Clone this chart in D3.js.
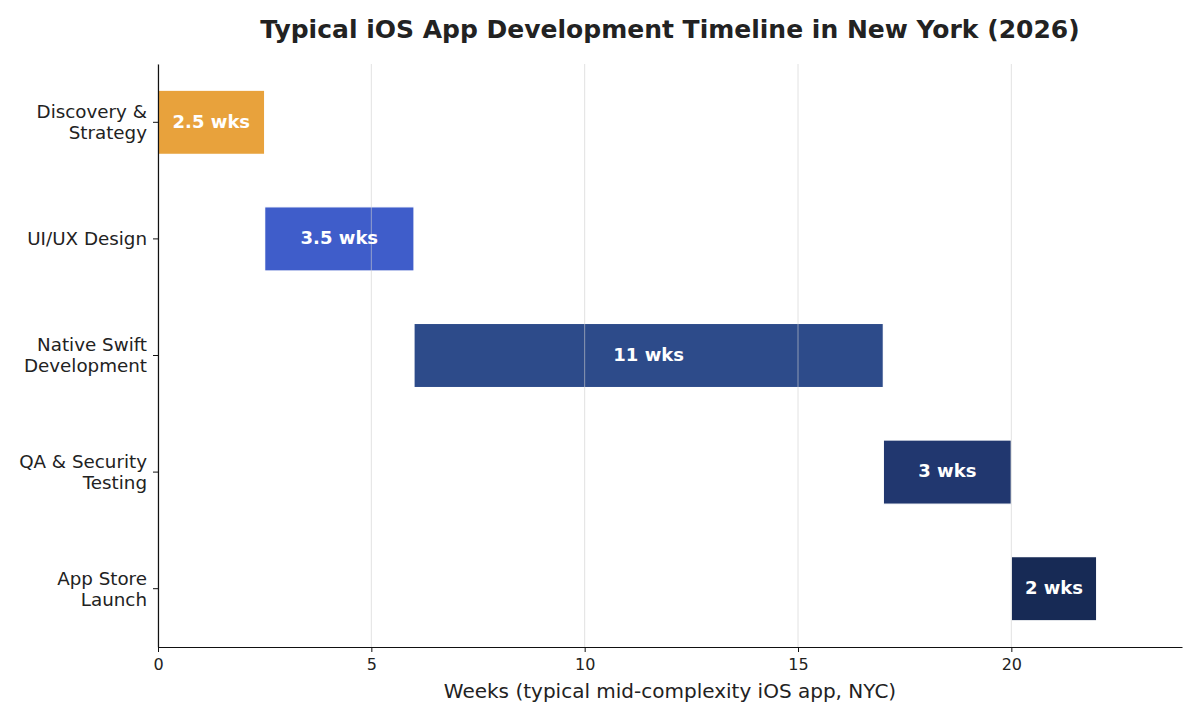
<!DOCTYPE html>
<html lang="en">
<head>
    <meta charset="UTF-8">
    <title>iOS App Timeline</title>
    <script src="https://cdn.jsdelivr.net/npm/d3@7"></script>
    <style>
        body { margin: 0; background: white; }
        text { font-family: "DejaVu Sans", sans-serif; fill: #222; }
    </style>
</head>
<body>
    <div id="chart"></div>
    <script>
        // phase data
        const phases = ["Discovery & Strategy", "UI/UX Design", "Native Swift Development", "QA & Security Testing", "App Store Launch"];
        const phaseLines = [["Discovery &", "Strategy"], ["UI/UX Design"], ["Native Swift", "Development"], ["QA & Security", "Testing"], ["App Store", "Launch"]];
        const starts = [0, 2.5, 6, 17, 20];
        const durations = [2.5, 3.5, 11, 3, 2];
        const barLabels = ["2.5 wks", "3.5 wks", "11 wks", "3 wks", "2 wks"];
        const colors = ["#E8A23C", "#3F5DCA", "#2D4B8A", "#21376F", "#172A55"];
        const xTicks = [0, 5, 10, 15, 20];

        const width = 1200, height = 720;
        const margin = { top: 64, right: 18, bottom: 73, left: 158 };

        const svg = d3.select("#chart").append("svg")
            .attr("width", width)
            .attr("height", height);

        const x = d3.scaleLinear()
            .domain([0, 24])
            .range([margin.left, width - margin.right]);

        const y = d3.scaleBand()
            .domain(phases)
            .range([margin.top, height - margin.bottom])
            .paddingInner(0.45)
            .paddingOuter(0.225);

        // bars
        svg.append("g")
            .selectAll("rect")
            .data(phases)
            .enter()
            .append("rect")
            .attr("x", (d, i) => x(starts[i]))
            .attr("y", d => y(d))
            .attr("width", (d, i) => x(starts[i] + durations[i]) - x(starts[i]))
            .attr("height", y.bandwidth())
            .attr("fill", (d, i) => colors[i])
            .attr("stroke", "white")
            .attr("stroke-width", 1.2);

        // grid (drawn over bars, faint)
        svg.append("g")
            .selectAll("line")
            .data(xTicks)
            .enter()
            .append("line")
            .attr("x1", d => x(d)).attr("x2", d => x(d))
            .attr("y1", margin.top).attr("y2", height - margin.bottom)
            .attr("stroke", "#cfcfcf")
            .attr("stroke-opacity", 0.6)
            .attr("stroke-width", 1);

        svg.append("g")
            .selectAll("text")
            .data(phases)
            .enter()
            .append("text")
            .attr("x", (d, i) => x(starts[i] + durations[i] / 2))
            .attr("y", d => y(d) + y.bandwidth() / 2 - 1)
            .attr("dy", "0.35em")
            .attr("text-anchor", "middle")
            .style("fill", "white")
            .style("font-weight", "bold")
            .style("font-size", "18px")
            .text((d, i) => barLabels[i]);

        // x axis
        const xAxis = svg.append("g")
            .attr("transform", `translate(0,${height - margin.bottom})`)
            .call(d3.axisBottom(x).tickValues(xTicks).tickSize(5).tickSizeOuter(0));
        xAxis.select(".domain").attr("stroke", "#111").attr("stroke-width", 1.2);
        xAxis.selectAll(".tick line").attr("stroke", "#111");
        xAxis.selectAll(".tick text").style("font-size", "16px").attr("dy", "0.95em").style("fill", "#222");

        // y axis
        const yAxis = svg.append("g")
            .attr("transform", `translate(${margin.left},0)`)
            .call(d3.axisLeft(y).tickSize(5).tickSizeOuter(0));
        yAxis.select(".domain").attr("stroke", "#111").attr("stroke-width", 1.2);
        yAxis.selectAll(".tick line").attr("stroke", "#111");
        yAxis.selectAll(".tick text").remove();
        yAxis.selectAll(".tick").each(function (d, i) {
            const lines = phaseLines[i];
            const t = d3.select(this).append("text")
                .attr("x", -11)
                .attr("text-anchor", "end")
                .style("font-size", "18.3px")
                .style("fill", "#222");
            lines.forEach((ln, j) => {
                t.append("tspan")
                    .attr("x", -11)
                    .attr("y", (j - (lines.length - 1) / 2) * 21)
                    .attr("dy", "0.35em")
                    .text(ln);
            });
        });

        // labels
        svg.append("text")
            .attr("x", x(12))
            .attr("y", 698)
            .attr("text-anchor", "middle")
            .style("font-size", "20px")
            .text("Weeks (typical mid-complexity iOS app, NYC)");

        svg.append("text")
            .attr("x", x(12))
            .attr("y", 38)
            .attr("text-anchor", "middle")
            .style("font-size", "25px")
            .style("font-weight", "bold")
            .text("Typical iOS App Development Timeline in New York (2026)");
    </script>
</body>
</html>
